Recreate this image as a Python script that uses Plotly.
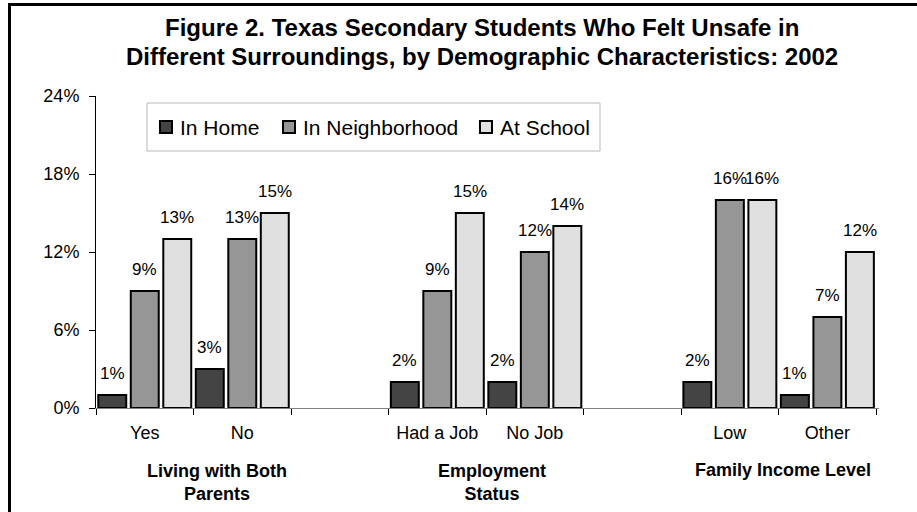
import plotly.graph_objects as go

# ---------------- data ----------------
categories = ["Yes", "No", " ", "Had a Job", "No Job", "  ", "Low", "Other"]
in_home = [1, 3, None, 2, 2, None, 2, 1]
in_neighborhood = [9, 13, None, 9, 12, None, 16, 7]
at_school = [13, 15, None, 15, 14, None, 16, 12]
series_names = ["In Home", "In Neighborhood", "At School"]
series_values = [in_home, in_neighborhood, at_school]
series_colors = ["#444444", "#969696", "#e0e0e0"]
group_labels = ["Living with Both<br>Parents", "Employment<br>Status", "Family Income Level"]
y_ticks = [0, 6, 12, 18, 24]
title_lines = ["Figure 2. Texas Secondary Students Who Felt Unsafe in",
               "Different Surroundings, by Demographic Characteristics: 2002"]

FONT = "Arial, Liberation Sans, sans-serif"
W, H = 917, 512
L, R, T, B = 96, 879, 96, 408


def px(x):
    return (x - L) / (R - L)


def py(y):
    return (B - y) / (B - T)


fig = go.Figure()
for name, vals, col in zip(series_names, series_values, series_colors):
    fig.add_trace(go.Bar(
        x=categories, y=vals, name=name,
        marker=dict(color=col, line=dict(color="black", width=2)),
        showlegend=False,
    ))

slot_px = (R - L) / len(categories)
annotations = []
# data labels
for j, vals in enumerate(series_values):
    for c, v in zip(categories, vals):
        if v is None:
            continue
        annotations.append(dict(
            x=c, y=v, xref="x", yref="y", text=f"{v}%", showarrow=False,
            xshift=(j - 1) * slot_px / 3, yanchor="bottom", yshift=10,
            font=dict(family=FONT, size=17, color="black"),
        ))

# title
for line, yc in zip(title_lines, [27.5, 56.5]):
    annotations.append(dict(
        x=px(482), y=py(yc), xref="paper", yref="paper", text=f"<b>{line}</b>",
        showarrow=False, xanchor="center", yanchor="middle",
        font=dict(family=FONT, size=24, color="black"),
    ))

# group labels
for lab, xc in zip(group_labels, [217, 492, 783]):
    annotations.append(dict(
        x=px(xc), y=py(482 if "<br>" in lab else 470), xref="paper", yref="paper",
        text=f"<b>{lab}</b>", showarrow=False, xanchor="center", yanchor="middle",
        font=dict(family=FONT, size=18, color="black"),
    ))

shapes = []
# legend box
shapes.append(dict(type="rect", xref="paper", yref="paper",
                   x0=px(147), x1=px(600), y0=py(151), y1=py(103),
                   line=dict(color="#b8b8b8", width=1), fillcolor="white", layer="above"))
leg_x = [159, 282, 479]
for name, col, lx in zip(series_names, series_colors, leg_x):
    shapes.append(dict(type="rect", xref="paper", yref="paper",
                       x0=px(lx + 1), x1=px(lx + 13), y0=py(133), y1=py(121),
                       line=dict(color="black", width=2), fillcolor=col, layer="above"))
    annotations.append(dict(
        x=px(lx + 19), y=py(127), xref="paper", yref="paper", text=name,
        showarrow=False, xanchor="left", yanchor="middle",
        font=dict(family=FONT, size=21, color="black"),
    ))

# outer border
shapes.append(dict(type="rect", xref="paper", yref="paper",
                   x0=px(9.5), x1=px(940), y0=py(540), y1=py(4.5),
                   line=dict(color="black", width=3), fillcolor="rgba(0,0,0,0)", layer="above"))

fig.update_layout(
    width=W, height=H,
    margin=dict(l=L, r=W - R, t=T, b=H - B, pad=0),
    paper_bgcolor="white", plot_bgcolor="white",
    barmode="group", bargap=0, bargroupgap=0.14,
    font=dict(family=FONT, size=18, color="black"),
    annotations=annotations, shapes=shapes,
    showlegend=False,
)
fig.update_xaxes(
    type="category", categoryorder="array", categoryarray=categories,
    showline=True, linecolor="#808080", linewidth=1,
    ticks="outside", tickson="boundaries", ticklen=6, tickcolor="black", tickwidth=1,
    showgrid=False, zeroline=False, ticklabelstandoff=8,
    tickfont=dict(family=FONT, size=18, color="black"),
)
fig.update_yaxes(
    range=[0, 24], tickvals=y_ticks, ticktext=[f"{t}%" for t in y_ticks],
    showline=True, linecolor="black", linewidth=1,
    ticks="outside", ticklen=6, tickcolor="black",
    showgrid=False, zeroline=False, ticklabelstandoff=6,
    tickfont=dict(family=FONT, size=18, color="black"),
)

fig.write_html("out.html")
